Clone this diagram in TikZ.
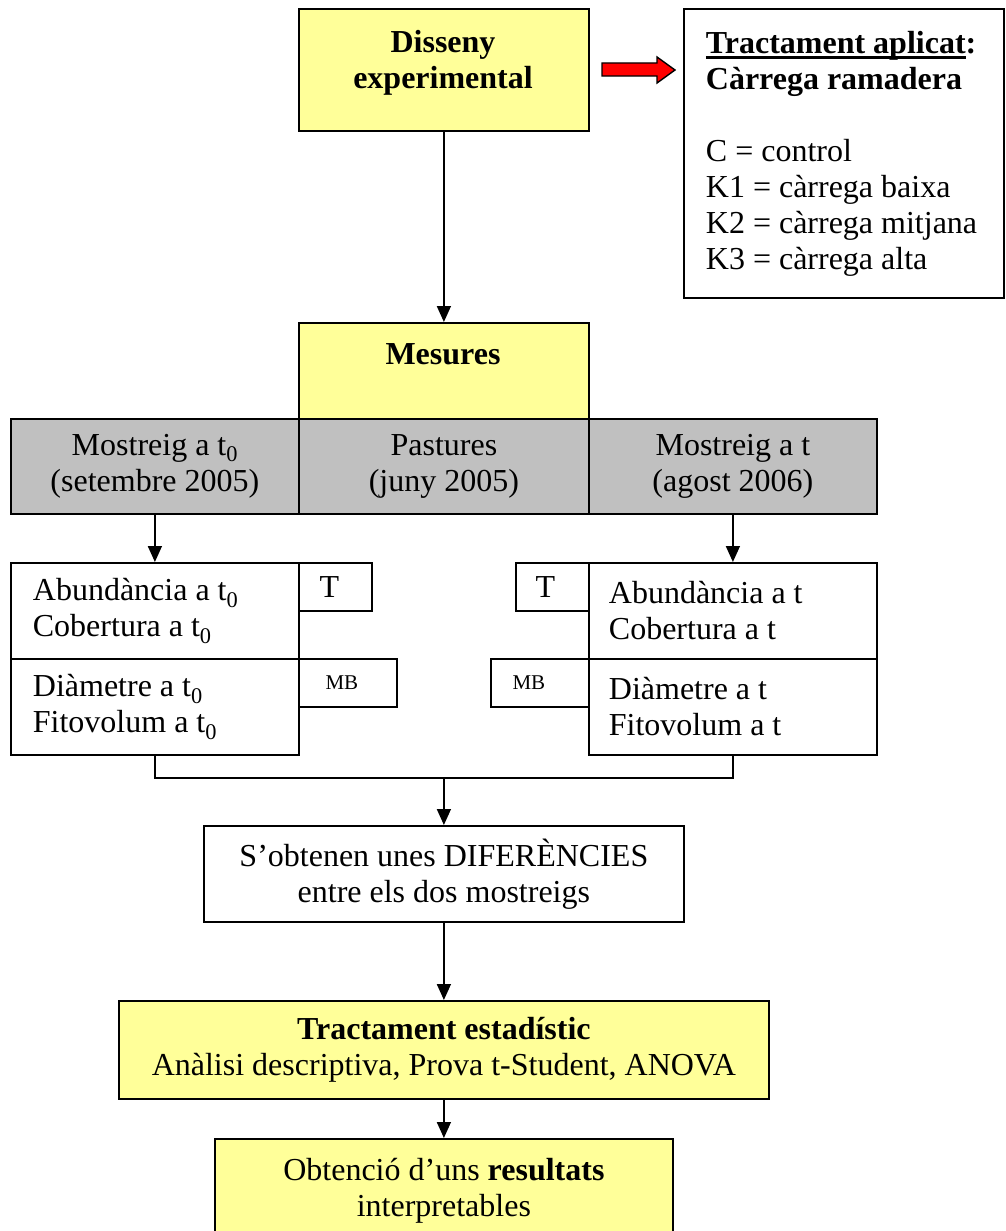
\documentclass[tikz,border=0pt]{standalone}
\usepackage{fontspec}
\setmainfont{Liberation Serif}
\usetikzlibrary{arrows.meta}
\definecolor{boxyellow}{HTML}{FFFF99}
\definecolor{boxgray}{HTML}{C0C0C0}
\newcommand\thickul[1]{\setbox0\hbox{#1}\rlap{\rule[-6pt]{\wd0}{2.6pt}}\box0}
\begin{document}
\begin{tikzpicture}[x=1pt,y=-1pt,
  every node/.style={font=\fontsize{32}{36}\selectfont},
  box/.style={draw,line width=1.8pt,anchor=north west,inner sep=0pt,align=center},
  lbox/.style={box,align=flush left,inner xsep=22pt,text width=244pt},
  rbox/.style={box,align=flush left,inner xsep=20pt,text width=248pt},
  small/.style={font=\fontsize{21}{24}\selectfont},
  txt/.style={inner sep=0pt,align=center},
  arr/.style={line width=1.6pt,-{Triangle[length=16pt,width=14pt]}},
  conn/.style={line width=1.6pt,line join=miter}]
\useasboundingbox (0,0) rectangle (1005,1231);

% top
\node[box,fill=boxyellow,minimum width=290pt,minimum height=122pt] (dis) at (298,8) {};
\node[txt,font=\fontsize{32}{36}\selectfont\bfseries] (distxt) at (443,63) {Disseny\\experimental};

\node[box,align=flush left,inner xsep=22pt,text width=276pt,minimum height=289pt] (trac) at (683,8)
  {\textbf{\thickul{Tractament aplicat}:}\\\textbf{Càrrega ramadera}\\[36pt]
   C = control\\K1 = càrrega baixa\\\mbox{K2 = càrrega mitjana}\\K3 = càrrega alta};

\draw[line width=1.4pt,fill=red] (602,63) -- (657,63) -- (657,57) -- (675,70) -- (657,83) -- (657,76) -- (602,76) -- cycle;

% measures
\node[box,fill=boxyellow,minimum width=290pt,minimum height=96pt] (mes) at (298,322) {};
\node[txt,font=\fontsize{32}{36}\selectfont\bfseries] (mestxt) at (443,354) {Mesures};

\node[box,fill=boxgray,minimum width=288pt,minimum height=95pt] (g1) at (10,418) {Mostreig a t\textsubscript{0}\\(setembre 2005)};
\node[box,fill=boxgray,minimum width=290pt,minimum height=95pt] (g2) at (298,418) {Pastures\\(juny 2005)};
\node[box,fill=boxgray,minimum width=288pt,minimum height=95pt] (g3) at (588,418) {Mostreig a t\\(agost 2006)};

% variables
\node[lbox,minimum height=96pt] (ab1) at (10,562) {Abundància a t\textsubscript{0}\\Cobertura a t\textsubscript{0}};
\node[lbox,minimum height=96pt] (di1) at (10,658) {Diàmetre a t\textsubscript{0}\\Fitovolum a t\textsubscript{0}};
\node[rbox,minimum height=96pt] (ab2) at (588,562) {Abundància a t\\Cobertura a t};
\node[rbox,minimum height=96pt] (di2) at (588,658) {Diàmetre a t\\Fitovolum a t};

\node[box,minimum width=73pt,minimum height=48pt] (t1) at (298,562) {\hspace*{-12pt}T};
\node[box,minimum width=73pt,minimum height=48pt] (t2) at (515,562) {\hspace*{-14pt}T};
\node[box,small,minimum width=98pt,minimum height=48pt] (mb1) at (298,658) {\hspace*{-12pt}MB};
\node[box,small,minimum width=98pt,minimum height=48pt] (mb2) at (490,658) {\hspace*{-22pt}MB};

% results
\node[box,minimum width=480pt,minimum height=96pt] (dif) at (203,825) {S’obtenen unes DIFERÈNCIES\\entre els dos mostreigs};
\node[box,fill=boxyellow,minimum width=650pt,minimum height=98pt] (est) at (118,1000) {\textbf{Tractament estadístic}\\Anàlisi descriptiva, Prova t-Student, ANOVA};
\node[box,fill=boxyellow,minimum width=458pt,minimum height=104pt] (obt) at (214,1138) {Obtenció d’uns \textbf{resultats}\\interpretables};

% connectors
\draw[arr] (dis.south) -- (mes.north);
\draw[arr] (g1.south) -- (ab1.north);
\draw[arr] (g3.south) -- (ab2.north);
\coordinate (jn) at (dif.north |- 0,778);
\draw[conn] (di1.south) |- (jn) -| (di2.south);
\draw[arr] (jn) -- (dif.north);
\draw[arr] (dif.south) -- (est.north);
\draw[arr] (est.south) -- (obt.north);
\end{tikzpicture}
\end{document}
